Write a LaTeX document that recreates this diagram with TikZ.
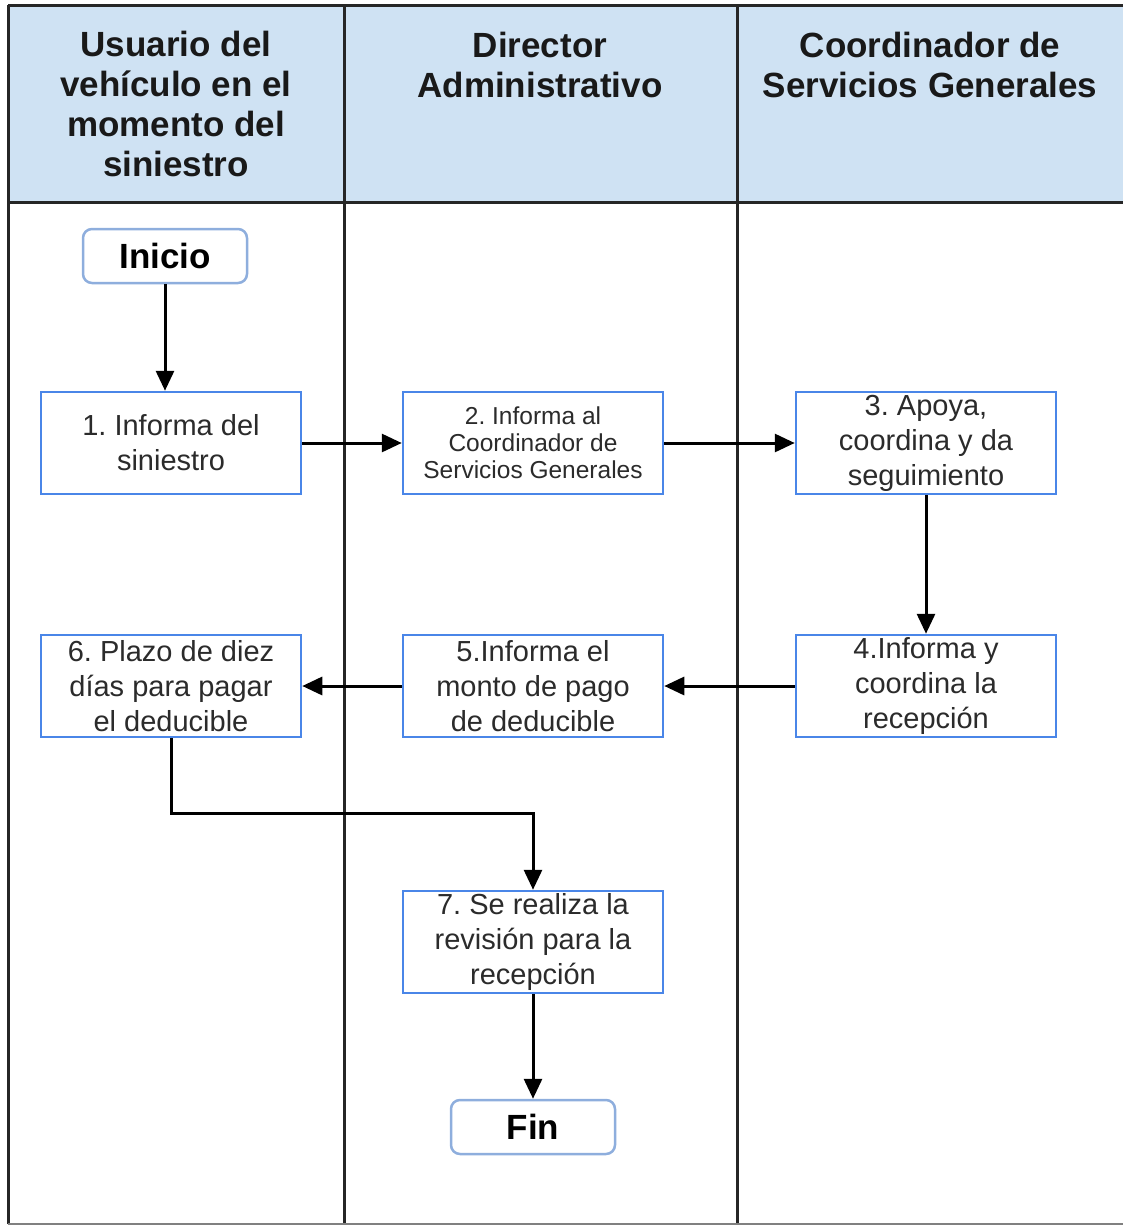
\documentclass[tikz,border=0pt]{standalone}
\usepackage{fontspec}
\setmainfont{Liberation Sans}
\usepackage{xcolor}
\usetikzlibrary{arrows.meta}
\definecolor{lanefill}{HTML}{CFE2F3}
\definecolor{stepblue}{HTML}{4A86E8}
\definecolor{endblue}{HTML}{8EAEDD}
\definecolor{steptext}{HTML}{2B2B2B}
\frenchspacing
\begin{document}
\begin{tikzpicture}[x=1pt,y=-1pt,
  lane/.style={line width=3pt,black!85},
  lanehead/.style={align=center,text=black!90,font=\fontsize{35}{40}\selectfont\bfseries},
  stepbox/.style={draw=stepblue,line width=2.5pt,fill=white,minimum width=260pt,minimum height=102pt,
    align=center,text=steptext,inner sep=0pt,font=\fontsize{29}{35}\selectfont},
  endbox/.style={draw=endblue,line width=2.5pt,rounded corners=9pt,fill=white,minimum width=164pt,
    minimum height=54pt,inner sep=0pt,font=\fontsize{35}{40}\selectfont\bfseries},
  flow/.style={-{Triangle[width=18pt,length=20pt]},line width=3pt}]
\useasboundingbox (0,0) rectangle (1123,1226);
% swimlanes
\fill[lanefill] (8,5) rectangle (1123,202);
\draw[lane] (8,5)--(1123,5);
\draw[lane] (8,202)--(1123,202);
\foreach \x in {8,344,737}{\draw[lane] (\x,5)--(\x,1224);}
\draw[line width=2pt,black!50] (8,1224)--(1123,1224);
\node[lanehead] (h1) at (176,104) {Usuario del\\vehículo en el\\momento del\\siniestro};
\node[lanehead] (h2) at (540,65) {Director\\Administrativo};
\node[lanehead] (h3) at (930,65) {Coordinador de\\Servicios Generales};
% steps
\node[endbox] (ini) at (165,256) {Inicio};
\node[stepbox] (s1) at (171,443) {1. Informa del\\siniestro};
\node[stepbox,font=\fontsize{24.5}{27}\selectfont] (s2) at (533,443) {2. Informa al\\Coordinador de\\Servicios Generales};
\node[stepbox] (s3) at (926,443) {3. Apoya,\\coordina y da\\seguimiento};
\node[stepbox] (s4) at (926,686) {4.Informa y\\coordina la\\recepción};
\node[stepbox] (s5) at (533,686) {5.Informa el\\monto de pago\\de deducible};
\node[stepbox] (s6) at (171,686) {6. Plazo de diez\\días para pagar\\el deducible};
\node[stepbox] (s7) at (533,942) {7. Se realiza la\\revisión para la\\recepción};
\node[endbox] (fin) at (533,1127) {Fin};
\coordinate (bend) at (533,813);
% connectors
\draw[flow] (ini.south)--(ini.south |- s1.north);
\draw[flow] (s1)--(s2);
\draw[flow] (s2)--(s3);
\draw[flow] (s3)--(s4);
\draw[flow] (s4)--(s5);
\draw[flow] (s5)--(s6);
\draw[flow] (s6) |- (bend)--(s7);
\draw[flow] (s7)--(fin);
\end{tikzpicture}
\end{document}
